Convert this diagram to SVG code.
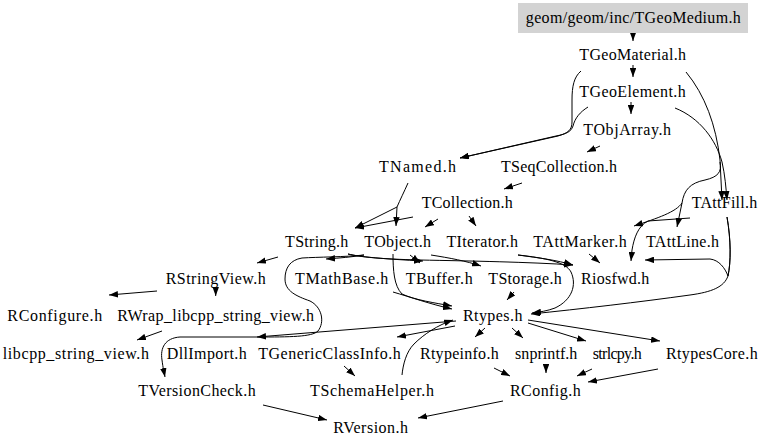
<svg xmlns="http://www.w3.org/2000/svg" width="768" height="448" viewBox="0 0 768 448">
<style>
.n text{font-family:"Liberation Serif","Times New Roman",serif;font-size:16px;text-anchor:middle;fill:#000}
.e path{fill:none;stroke:#000;stroke-width:1;marker-end:url(#ah)}
</style>
<defs>
<marker id="ah" viewBox="0 0 9 6.5" refX="9" refY="3.25" markerWidth="9" markerHeight="6.5" markerUnits="userSpaceOnUse" orient="auto"><path d="M0,0 L9,3.25 L0,6.5 z" fill="#000"/></marker>
</defs>
<rect width="768" height="448" fill="#fff"/>
<g class="e" id="edges">
<path d="M633,33 L633,41"/>
<path d="M633,65 L633,77"/>
<path d="M631,102 L631,114"/>
<path d="M581,71 C574,77 572,86 572,100 L572,122 C572,130 568,133 558,136 L460,158"/>
<path d="M588,107 C580,112 575,118 573,126 C571,132 566,134 556,136 L460,158"/>
<path d="M600,146 L587,152"/>
<path d="M522,183 L504,189"/>
<path d="M686,72 C705,95 716,125 720,160 L722,200"/>
<path d="M675,108 C700,118 716,140 722,162 C725,175 726,188 727,200"/>
<path d="M720,162 C722,172 718,177 705,180 C690,183 684,190 682,203 C676,212 658,218 634,226"/>
<path d="M682,203 L677,227"/>
<path d="M408,183 C404,192 400,200 397,207 L355,228"/>
<path d="M397,207 L396,226"/>
<path d="M413,217 L355,228"/>
<path d="M438,219 L425,227"/>
<path d="M469,216 L476,226"/>
<path d="M278,257 L257,263"/>
<path d="M364,255 C352,257 340,258 326,259"/>
<path d="M364,255 C345,257 318,257 302,258 C290,260 285,268 285,279 C285,291 296,296 310,301 C322,307 325,322 318,331 C312,337 290,337 257,337 L180,337 C165,338 160,348 162,360 C163,368 164,372 165,377"/>
<path d="M348,254 C360,257 380,259 420,260 C470,261 530,262 573,265"/>
<path d="M348,254 C360,257 385,259 423,261"/>
<path d="M410,255 L420,263"/>
<path d="M431,255 C450,258 466,261 481,266"/>
<path d="M393,254 C393,270 394,286 402,294 C415,300 435,303 452,306"/>
<path d="M393,292 C410,297 430,304 452,309"/>
<path d="M518,255 C540,258 556,260 573,265"/>
<path d="M518,255 C545,258 566,262 571,272 C577,285 572,300 555,308 C547,311 540,312 532,313"/>
<path d="M514,292 L507,300"/>
<path d="M589,254 L600,263"/>
<path d="M690,218 L648,221 C638,226 634,238 632,250 L631,261"/>
<path d="M727,217 C731,240 731,262 728,276 C725,268 719,260 710,259 L645,260"/>
<path d="M727,217 C731,240 731,262 728,276 C724,287 712,292 690,295 C640,302 580,309 531,314"/>
<path d="M157,291 L109,295"/>
<path d="M215.7,287 L215.7,296"/>
<path d="M162,331 L137,340"/>
<path d="M456,321 L257,337"/>
<path d="M455,326 L397,337"/>
<path d="M485,328 L475,337"/>
<path d="M512,328 L523,338"/>
<path d="M528,323 L586,341"/>
<path d="M528,320 L660,341"/>
<path d="M344,366 L355,376"/>
<path d="M402,375 C403,365 406,352 414,344 C424,334 438,325 453,320"/>
<path d="M494,368 L510,376"/>
<path d="M546,364 L546,373"/>
<path d="M592,369 L577,376"/>
<path d="M658,369 L588,382"/>
<path d="M503,401 L418,418"/>
<path d="M263,405 L327,420"/>
</g>
<g class="n">
<g id="n-TGeoMedium"><rect x="518" y="3" width="230" height="30" fill="#d3d3d3"/><text x="633.3" y="23" textLength="215" lengthAdjust="spacing">geom/geom/inc/TGeoMedium.h</text></g>
<g id="n-TGeoMaterial"><text x="632.7" y="60" textLength="106.7" lengthAdjust="spacing">TGeoMaterial.h</text></g>
<g id="n-TGeoElement"><text x="632.5" y="97" textLength="106.4" lengthAdjust="spacing">TGeoElement.h</text></g>
<g id="n-TObjArray"><text x="627.2" y="135" textLength="87.7" lengthAdjust="spacing">TObjArray.h</text></g>
<g id="n-TNamed"><text x="417.5" y="171.7" textLength="77" lengthAdjust="spacing">TNamed.h</text></g>
<g id="n-TSeqCollection"><text x="559" y="171.7" textLength="116" lengthAdjust="spacing">TSeqCollection.h</text></g>
<g id="n-TCollection"><text x="467.2" y="208.3" textLength="91" lengthAdjust="spacing">TCollection.h</text></g>
<g id="n-TAttFill"><text x="724.5" y="208.3" textLength="65.6" lengthAdjust="spacing">TAttFill.h</text></g>
<g id="n-TString"><text x="316.7" y="246.5" textLength="63.3" lengthAdjust="spacing">TString.h</text></g>
<g id="n-TObject"><text x="397.7" y="246.5" textLength="66.7" lengthAdjust="spacing">TObject.h</text></g>
<g id="n-TIterator"><text x="482.2" y="246.5" textLength="71.5" lengthAdjust="spacing">TIterator.h</text></g>
<g id="n-TAttMarker"><text x="580" y="246.5" textLength="93.4" lengthAdjust="spacing">TAttMarker.h</text></g>
<g id="n-TAttLine"><text x="682.5" y="246.5" textLength="73" lengthAdjust="spacing">TAttLine.h</text></g>
<g id="n-RStringView"><text x="215.7" y="284" textLength="100" lengthAdjust="spacing">RStringView.h</text></g>
<g id="n-TMathBase"><text x="341.7" y="283.5" textLength="93.3" lengthAdjust="spacing">TMathBase.h</text></g>
<g id="n-TBuffer"><text x="439.2" y="283.5" textLength="67" lengthAdjust="spacing">TBuffer.h</text></g>
<g id="n-TStorage"><text x="525" y="283.5" textLength="73.4" lengthAdjust="spacing">TStorage.h</text></g>
<g id="n-Riosfwd"><text x="615.2" y="283.5" textLength="68.3" lengthAdjust="spacing">Riosfwd.h</text></g>
<g id="n-RConfigure"><text x="54.8" y="321" textLength="95" lengthAdjust="spacing">RConfigure.h</text></g>
<g id="n-RWrap"><text x="215.7" y="321" textLength="196.7" lengthAdjust="spacing">RWrap_libcpp_string_view.h</text></g>
<g id="n-Rtypes"><text x="492.7" y="320.5" textLength="59.5" lengthAdjust="spacing">Rtypes.h</text></g>
<g id="n-libcpp"><text x="75.8" y="358.5" textLength="146.3" lengthAdjust="spacing">libcpp_string_view.h</text></g>
<g id="n-DllImport"><text x="206.7" y="358.5" textLength="80" lengthAdjust="spacing">DllImport.h</text></g>
<g id="n-TGenericClassInfo"><text x="329.5" y="358.5" textLength="142.4" lengthAdjust="spacing">TGenericClassInfo.h</text></g>
<g id="n-Rtypeinfo"><text x="459.3" y="358.5" textLength="78.7" lengthAdjust="spacing">Rtypeinfo.h</text></g>
<g id="n-snprintf"><text x="546.2" y="358.5" textLength="62.3" lengthAdjust="spacing">snprintf.h</text></g>
<g id="n-strlcpy"><text x="617.2" y="358.5" textLength="49" lengthAdjust="spacing">strlcpy.h</text></g>
<g id="n-RtypesCore"><text x="711.8" y="358.5" textLength="91.7" lengthAdjust="spacing">RtypesCore.h</text></g>
<g id="n-TVersionCheck"><text x="197" y="396" textLength="117.4" lengthAdjust="spacing">TVersionCheck.h</text></g>
<g id="n-TSchemaHelper"><text x="372" y="396" textLength="124" lengthAdjust="spacing">TSchemaHelper.h</text></g>
<g id="n-RConfig"><text x="545.3" y="396" textLength="70.7" lengthAdjust="spacing">RConfig.h</text></g>
<g id="n-RVersion"><text x="370.7" y="433" textLength="74.7" lengthAdjust="spacing">RVersion.h</text></g>
</g>
</svg>
